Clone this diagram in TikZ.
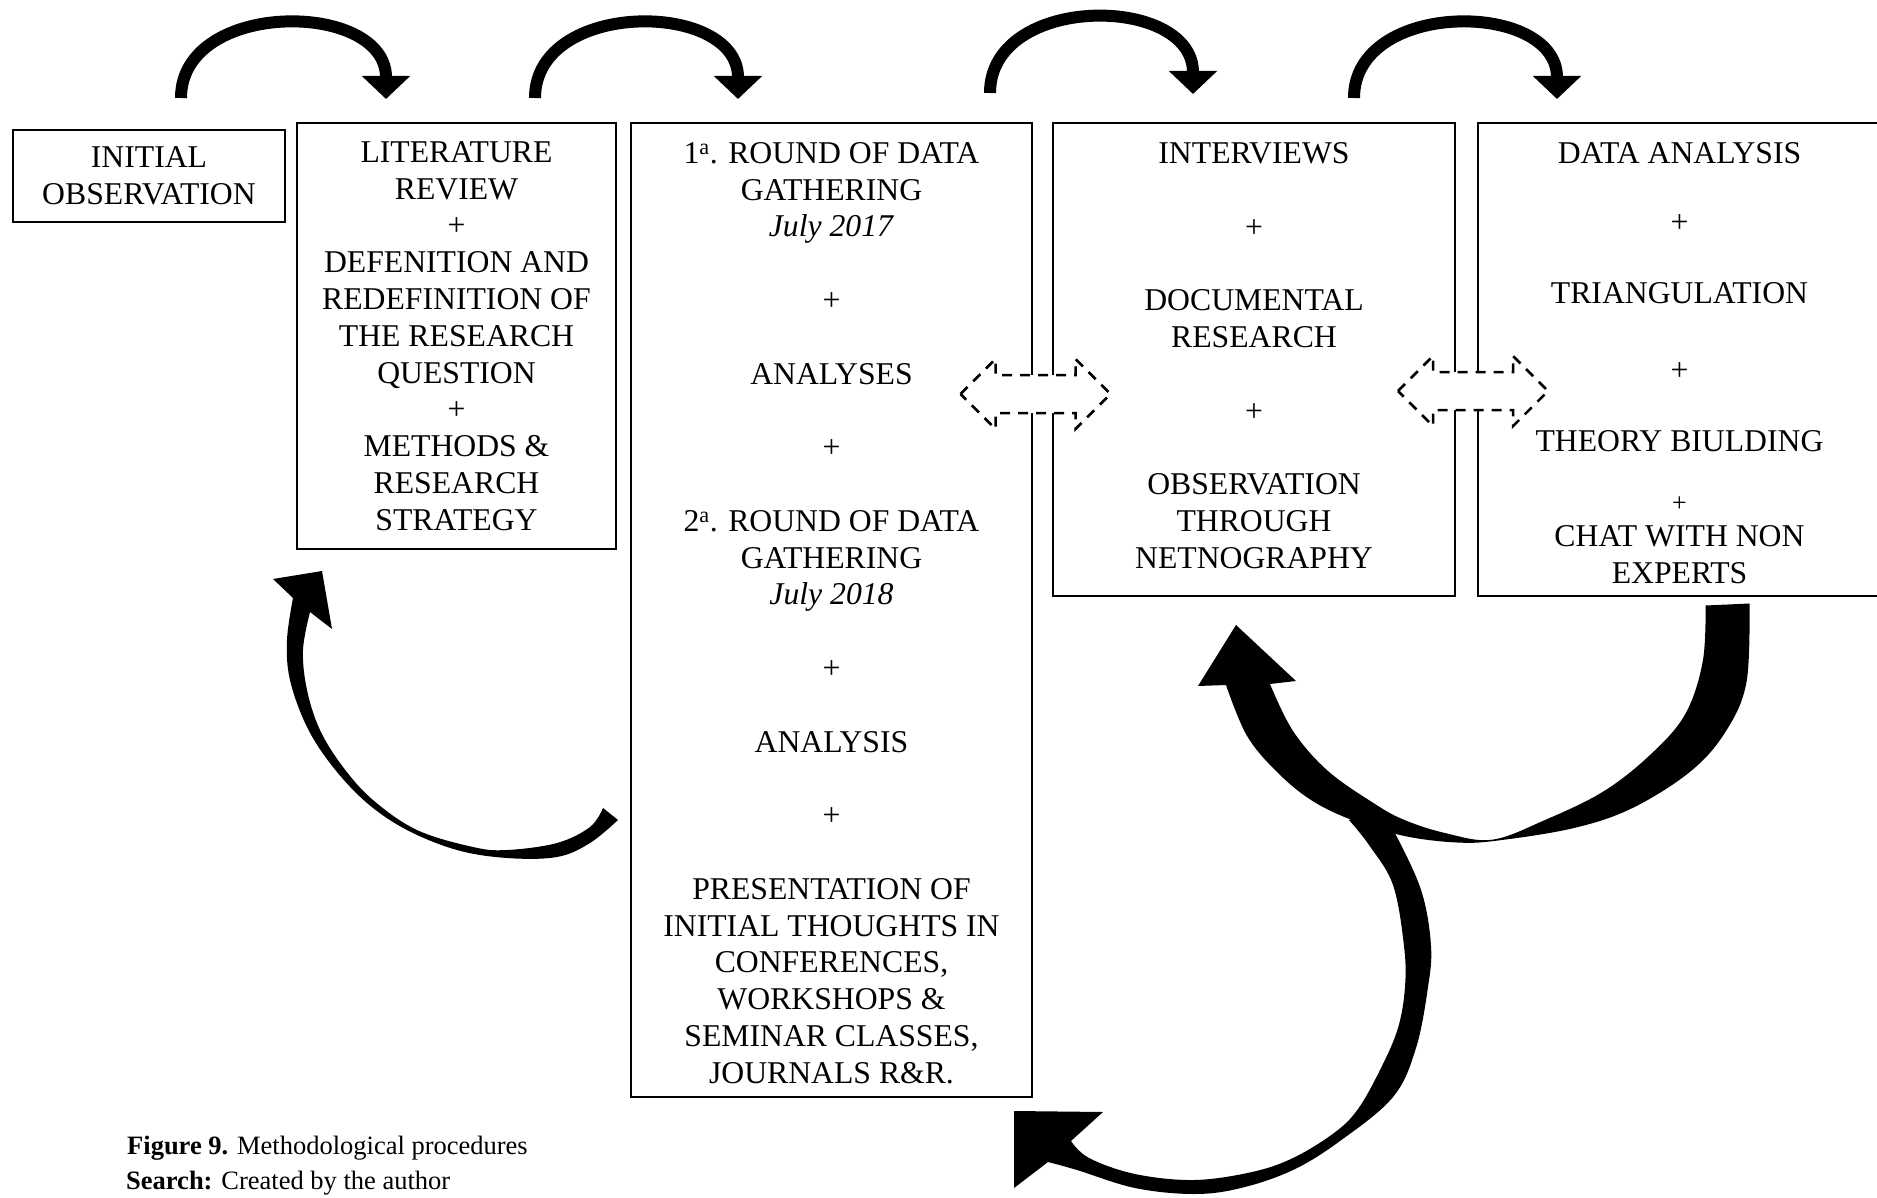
\documentclass[tikz,border=0pt]{standalone}
\usepackage{fontspec}
\setmainfont{Liberation Serif}
\usetikzlibrary{arrows.meta}
\begin{document}
\begin{tikzpicture}[x=1pt,y=-1pt,
  box/.style={draw, line width=2pt, inner sep=0pt, align=center, anchor=north west,
    font=\fontsize{31.7pt}{36.8pt}\selectfont},
  hop/.style={line width=12pt, -{Triangle[width=47pt,length=23pt]}},
  dashbox/.style={draw, fill=white, line width=2.5pt, dash pattern=on 10pt off 8pt},
  sweep/.style={fill=black},
  caption/.style={anchor=base west, inner sep=0pt, font=\fontsize{26.5pt}{32pt}\selectfont},
  twinway/.pic={\path[dashbox] (-75,0) -- (-40,-35) -- (-40,-19) -- (40,-19) -- (40,-35)
     -- (75,0) -- (40,35) -- (40,19) -- (-40,19) -- (-40,35) -- cycle;}
]
\useasboundingbox (0,0) rectangle (1877,1198);

% stage boxes (struts nudge the text block up or down inside its frame)
\node[box, minimum width=272pt, minimum height=92pt] (b1) at (12,129) {INITIAL\\OBSERVATION};
\node[box, minimum width=319pt, minimum height=426pt] (b2) at (296,122)
  {LITERATURE\\REVIEW\\+\\DEFENITION AND\\REDEFINITION OF\\THE RESEARCH\\QUESTION\\+\\METHODS \&\\RESEARCH\\STRATEGY};
\node[box, minimum width=401pt, minimum height=974pt] (b3) at (630,122)
  {\rule{0pt}{27pt}1\textsuperscript{a}. ROUND OF DATA\\GATHERING\\\textit{July 2017}\\[36.8pt]+\\[36.8pt]ANALYSES\\[36.8pt]+\\[36.8pt]%
   2\textsuperscript{a}. ROUND OF DATA\\GATHERING\\\textit{July 2018}\\[36.8pt]+\\[36.8pt]ANALYSIS\\[36.8pt]+\\[36.8pt]%
   PRESENTATION OF\\INITIAL THOUGHTS IN\\CONFERENCES,\\WORKSHOPS \&\\SEMINAR CLASSES,\\JOURNALS R\&R.};
\node[box, minimum width=402pt, minimum height=473pt] (b4) at (1052,122)
  {INTERVIEWS\\[36.8pt]+\\[36.8pt]DOCUMENTAL\\RESEARCH\\[36.8pt]+\\[36.8pt]OBSERVATION\\THROUGH\\NETNOGRAPHY\rule[-8pt]{0pt}{8pt}};
\node[box, minimum width=403pt, minimum height=473pt] (b5) at (1477,122)
  {\rule{0pt}{28pt}DATA ANALYSIS\\[32.6pt]+\\[33.8pt]TRIANGULATION\\[39.9pt]+\\[35pt]THEORY BIULDING\\[23pt]%
   {\fontsize{26pt}{30pt}\selectfont +}\\[-2pt]CHAT WITH NON\\EXPERTS};

% hops over the tops of the boxes
\coordinate (t1s) at (181,98);  \coordinate (t1e) at (386,99);
\coordinate (t2s) at (535,98);  \coordinate (t2e) at (738,99);
\coordinate (t3s) at (990,93);  \coordinate (t3e) at (1193,94);
\coordinate (t4s) at (1354,98); \coordinate (t4e) at (1557,99);
\draw[hop] (t1s) .. controls +(0,-99) and +(0,-99) .. (t1e);
\draw[hop] (t2s) .. controls +(0,-99) and +(0,-99) .. (t2e);
\draw[hop] (t3s) .. controls +(0,-100) and +(0,-100) .. (t3e);
\draw[hop] (t4s) .. controls +(0,-99) and +(0,-99) .. (t4e);

% dashed two-way links between the data boxes
\pic at (1035.5,394) {twinway};
\pic at (1473,391) {twinway};

% sweeping arrow back to the literature review
\path[sweep] plot[smooth, tension=0.6] coordinates {(618,820) (590,843) (557,857) (507,858) (457,850)
    (407,830) (367,803) (333,767) (307,727) (290,680) (287,640) (293,598)}
  -- (273,579) -- (322,571) -- (332,629)
  -- plot[smooth, tension=0.6] coordinates {(310,612) (303,650) (307,690) (320,730) (343,767) (373,800)
    (417,830) (473,847) (507,850) (557,843) (590,827) (603,808)} -- cycle;

% sweeping arrow from the analysis back to the interviews
\path[sweep] plot[smooth, tension=0.6] coordinates {(1749.5,603.5) (1746.5,682) (1726,731) (1691,771)
    (1632.5,808) (1574,828) (1498,840.5) (1457,842.5) (1404.5,836) (1352,820) (1311,800) (1276,771)
    (1246.5,735) (1226,685)}
  -- (1198,686) -- (1236,625) -- (1296,681)
  -- plot[smooth, tension=0.6] coordinates {(1270,684) (1293,731) (1328,771) (1375,804) (1404.5,820)
    (1445,833) (1492,839.7) (1545,820) (1603,791.7) (1650,755) (1685,714.5) (1702.7,661.6) (1705.6,605.5)}
  -- cycle;

% sweeping arrow down and back towards the data gathering
\path[sweep] plot[smooth, tension=0.6] coordinates {(1349,820) (1369,845) (1393,885) (1404,946) (1405,987)
    (1398,1028) (1381,1068) (1358,1109) (1334,1133) (1293,1158) (1252,1172) (1194,1180) (1135,1174)
    (1089,1158) (1071,1141)}
  -- (1103,1112) -- (1014,1111) -- (1014,1188)
  -- plot[smooth, tension=0.6] coordinates {(1048,1162) (1077,1170) (1135,1188) (1194,1194) (1241,1188)
    (1293,1170) (1340,1141) (1393,1097) (1416,1048) (1428,987) (1431,946) (1422,893) (1399,841) (1378,806)}
  -- cycle;

% caption
\node[caption] (fig) at (127,1154) {\textbf{Figure 9.} Methodological procedures};
\node[caption] (src) at (126,1189) {\textbf{Search:} Created by the author};
\end{tikzpicture}
\end{document}
